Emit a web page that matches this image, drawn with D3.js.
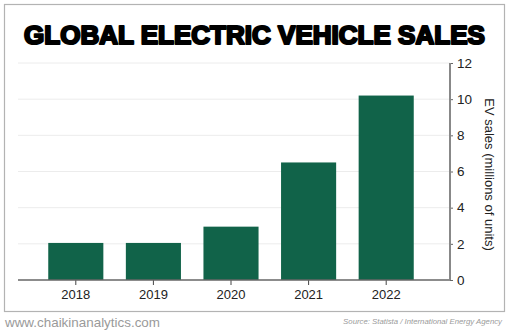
<!DOCTYPE html>
<html>
<head>
<meta charset="utf-8">
<script src="https://cdn.jsdelivr.net/npm/d3@7"></script>
<style>
    body { margin: 0; background: #fff; }
    text { font-family: "Liberation Sans", Arial, sans-serif; }
</style>
</head>
<body>
<div id="chart"></div>
<script>
const years = ["2018", "2019", "2020", "2021", "2022"];
const sales = [2.05, 2.05, 2.95, 6.5, 10.2];
const yTicks = [0, 2, 4, 6, 8, 10, 12];

const width = 510, height = 335;

const svg = d3.select("#chart").append("svg")
    .attr("width", width)
    .attr("height", height);

// shrink/grow a text's font size so it spans the given width
function fitWidth(sel, target, baseSize) {
    const w = sel.node().getComputedTextLength();
    sel.style("font-size", (baseSize * target / w).toFixed(2) + "px");
}

// frame
svg.append("rect")
    .attr("x", 4.5).attr("y", 4.5)
    .attr("width", 500).attr("height", 307)
    .attr("fill", "none")
    .attr("stroke", "#b3b3b3")
    .attr("stroke-width", 1.2);

// title (bold face, thickened with a stroke)
const title = svg.append("text")
    .attr("x", 24)
    .attr("y", 44)
    .style("font-weight", 700)
    .style("font-size", "30px")
    .style("fill", "#000")
    .style("stroke", "#000")
    .style("stroke-width", 2.2)
    .style("stroke-linejoin", "round")
    .text("GLOBAL ELECTRIC VEHICLE SALES");
fitWidth(title, 461, 30);

const plotLeft = 18, plotRight = 450, plotTop = 63, plotBottom = 280;

const x = d3.scaleBand()
    .domain(years)
    .range([37, 425])
    .paddingInner(0.29)
    .paddingOuter(0.145);

const y = d3.scaleLinear()
    .domain([0, 12])
    .range([plotBottom, plotTop]);

// gridlines
svg.append("g")
    .selectAll("line")
    .data(yTicks.filter(d => d > 0))
    .enter()
    .append("line")
    .attr("x1", plotLeft)
    .attr("x2", plotRight)
    .attr("y1", d => y(d))
    .attr("y2", d => y(d))
    .attr("stroke", "#ececec")
    .attr("stroke-width", 1);

// bars
svg.append("g")
    .selectAll("rect")
    .data(years)
    .enter()
    .append("rect")
    .attr("x", d => x(d))
    .attr("y", (d, i) => y(sales[i]))
    .attr("width", x.bandwidth())
    .attr("height", (d, i) => y(0) - y(sales[i]))
    .attr("fill", "#116349");

// x axis
const xAxis = svg.append("g")
    .attr("transform", `translate(0, ${plotBottom})`)
    .call(d3.axisBottom(x).tickSize(5).tickPadding(5));
xAxis.select(".domain").remove();
xAxis.selectAll(".tick line").attr("stroke", "#444");
xAxis.selectAll("text")
    .style("font-size", "13px")
    .style("fill", "#222");

svg.append("line")
    .attr("x1", plotLeft).attr("x2", plotRight)
    .attr("y1", plotBottom).attr("y2", plotBottom)
    .attr("stroke", "#666")
    .attr("stroke-width", 1.5);

// y axis on the right
const yAxis = svg.append("g")
    .attr("transform", `translate(${plotRight}, 0)`)
    .call(d3.axisRight(y).tickValues(yTicks).tickSize(3).tickPadding(4));
yAxis.select(".domain").remove();
yAxis.selectAll(".tick line").attr("stroke", "#666");
yAxis.selectAll("text")
    .style("font-size", "13.5px")
    .style("fill", "#222");

svg.append("line")
    .attr("x1", plotRight).attr("x2", plotRight)
    .attr("y1", plotTop).attr("y2", plotBottom)
    .attr("stroke", "#888")
    .attr("stroke-width", 2);

svg.append("text")
    .attr("transform", `translate(485, ${(plotTop + plotBottom) / 2 + 3}) rotate(90)`)
    .attr("text-anchor", "middle")
    .style("font-size", "13px")
    .style("fill", "#222")
    .text("EV sales (millions of units)");

// footer
const site = svg.append("text")
    .attr("x", 5)
    .attr("y", 327)
    .style("font-size", "13.5px")
    .style("fill", "#9a9a9a")
    .text("www.chaikinanalytics.com");
fitWidth(site, 155, 13.5);

const source = svg.append("text")
    .attr("x", 502)
    .attr("y", 324)
    .attr("text-anchor", "end")
    .style("font-size", "10px")
    .style("font-style", "italic")
    .style("fill", "#9a9a9a")
    .text("Source: Statista / International Energy Agency");
fitWidth(source, 159, 10);
</script>
</body>
</html>
